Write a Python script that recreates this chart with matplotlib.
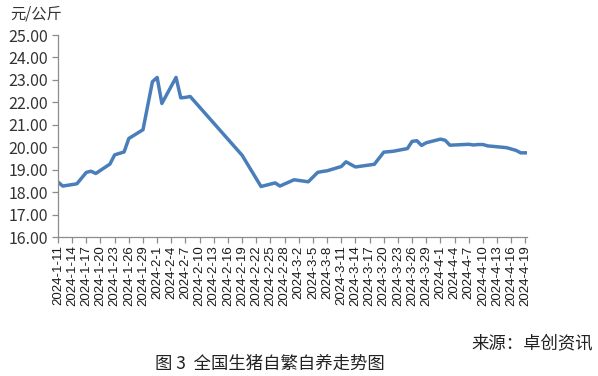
import pandas as pd
import matplotlib
matplotlib.use("Agg")
import matplotlib.pyplot as plt

plt.rcParams['font.family'] = ['Noto Sans CJK SC', 'DejaVu Sans']

# price points (yuan / kg)
dates = [
    "2024-01-11", "2024-01-12", "2024-01-15", "2024-01-17", "2024-01-18",
    "2024-01-19", "2024-01-22", "2024-01-23", "2024-01-25", "2024-01-26",
    "2024-01-29", "2024-01-31", "2024-02-01", "2024-02-02", "2024-02-05",
    "2024-02-06", "2024-02-07", "2024-02-08", "2024-02-19", "2024-02-23",
    "2024-02-26", "2024-02-27", "2024-03-01", "2024-03-04", "2024-03-06",
    "2024-03-07", "2024-03-08", "2024-03-11", "2024-03-12", "2024-03-14",
    "2024-03-18", "2024-03-20", "2024-03-21", "2024-03-22", "2024-03-25",
    "2024-03-26", "2024-03-27", "2024-03-28", "2024-03-29", "2024-04-01",
    "2024-04-02", "2024-04-03", "2024-04-07", "2024-04-08", "2024-04-09",
    "2024-04-10", "2024-04-11", "2024-04-12", "2024-04-15", "2024-04-16",
    "2024-04-17", "2024-04-18", "2024-04-19",
]
prices = [
    18.45, 18.27, 18.37, 18.88, 18.93,
    18.83, 19.25, 19.66, 19.79, 20.39,
    20.78, 22.92, 23.11, 21.95, 23.11,
    22.20, 22.22, 22.26, 19.64, 18.25,
    18.41, 18.27, 18.55, 18.46, 18.88,
    18.92, 18.95, 19.14, 19.35, 19.12,
    19.24, 19.78, 19.80, 19.82, 19.94,
    20.26, 20.29, 20.08, 20.20, 20.36,
    20.31, 20.09, 20.13, 20.10, 20.12,
    20.12, 20.06, 20.04, 19.98, 19.92,
    19.86, 19.75, 19.75,
]

y_ticks = [16, 17, 18, 19, 20, 21, 22, 23, 24, 25]
x_start = pd.Timestamp("2024-01-11")
x_end = pd.Timestamp("2024-04-19")

line_color = "#4a7ebb"
axis_color = "#8c8c8c"

fig = plt.figure(figsize=(5.98, 3.76), dpi=100)
ax = fig.add_axes([58 / 598, 1 - 237 / 376, 469 / 598, 202 / 376])

ax.plot(pd.to_datetime(dates), prices, color=line_color, lw=2.5,
        solid_joinstyle="round")

ax.set_ylim(16, 25)
ax.set_yticks(y_ticks)
ax.set_yticklabels([f"{v:.2f}" for v in y_ticks], fontsize=11.5, color="#333333")

xticks = pd.date_range(x_start, x_end, freq="3D")
ax.set_xlim(x_start, x_end + pd.Timedelta(hours=8))
ax.set_xticks(xticks)
ax.set_xticklabels([f"{d.year}-{d.month}-{d.day}" for d in xticks],
                   rotation=90, fontsize=9.5, family="Liberation Sans",
                   color="#1a1a1a")

for side in ("top", "right"):
    ax.spines[side].set_visible(False)
for side in ("left", "bottom"):
    ax.spines[side].set_color(axis_color)
    ax.spines[side].set_linewidth(0.9)
ax.tick_params(axis="both", color=axis_color, length=4, width=0.9)
ax.tick_params(axis="x", pad=2)
ax.tick_params(axis="y", pad=3)

fig.text(10 / 598, 1 - 14 / 376, "元/公斤", fontsize=11, color="#333333",
         va="center", ha="left")
fig.text(593 / 598, 1 - 343 / 376, "来源：卓创资讯", fontsize=12.5,
         color="#222222", va="center", ha="right")
fig.text(155 / 598, 1 - 364 / 376, "图 3  全国生猪自繁自养走势图", fontsize=12.5,
         color="#222222", va="center", ha="left")

fig.savefig("out.png", dpi=100, facecolor="white")
